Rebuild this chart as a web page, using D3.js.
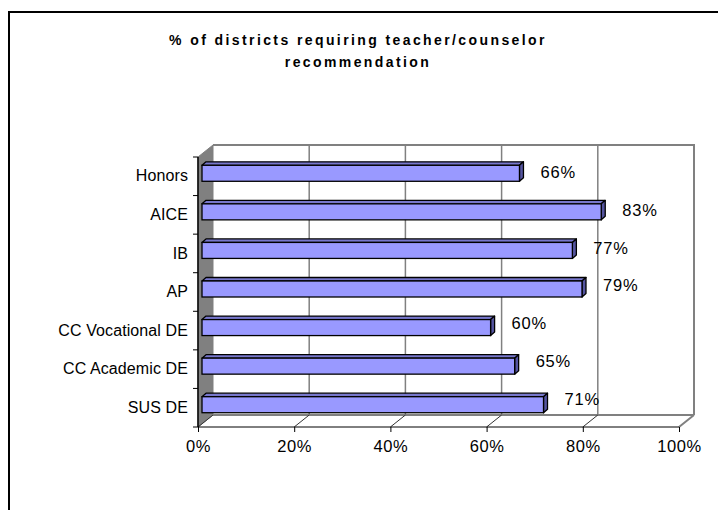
<!DOCTYPE html>
<html>
<head>
<meta charset="utf-8">
<script src="https://cdn.jsdelivr.net/npm/d3@7"></script>
<style>
  body { margin: 0; background: #fff; }
  text { font-family: Arial, "Liberation Sans", sans-serif; }
</style>
</head>
<body>
<script>
//categories and values, top to bottom
var categories = ["Honors", "AICE", "IB", "AP", "CC Vocational DE", "CC Academic DE", "SUS DE"];
var values = [0.66, 0.83, 0.77, 0.79, 0.60, 0.65, 0.71];
var xTicks = [0, 0.2, 0.4, 0.6, 0.8, 1.0];
var titleLines = ["% of districts requiring teacher/counselor", "recommendation"];

var width = 718, height = 510;
var fontFam = "Arial, 'Liberation Sans', sans-serif";

//front plane of the 3d plot
var front = {left: 198, right: 679, top: 157, bottom: 427};
//depth shift to the back wall
var depth = {dx: 15, dy: -12};
//bar depth position and thickness
var barShift = {dx: 4, dy: -3},
    barDepth = {dx: 4, dy: -3.5},
    barH = 16;

var svg = d3.select("body").append("svg")
    .attr("width", width)
    .attr("height", height);

//outer border (only left and top fall inside the picture)
svg.append("path")
    .attr("d", "M9,520 L9,12 L730,12")
    .attr("fill", "none")
    .attr("stroke", "black")
    .attr("stroke-width", 2);

//title
svg.append("g").selectAll("text")
    .data(titleLines)
    .enter().append("text")
    .attr("x", 358)
    .attr("y", function(d, i) { return 45 + i * 22; })
    .attr("text-anchor", "middle")
    .attr("font-size", 14)
    .attr("font-weight", "bold")
    .attr("letter-spacing", 2.4)
    .text(function(d) { return d; });

var x = d3.scaleLinear().domain([0, 1]).range([front.left, front.right]);
var y = d3.scaleBand().domain(categories).range([front.top, front.bottom]);

//back wall edge + floor
var backBottom = front.bottom + depth.dy,
    backTop = front.top + depth.dy;

//left side wall
svg.append("path")
    .attr("d", "M" + front.left + "," + front.top +
        " L" + (front.left + depth.dx) + "," + backTop +
        " L" + (front.left + depth.dx) + "," + backBottom +
        " L" + front.left + "," + front.bottom + "Z")
    .attr("fill", "#808080")
    .attr("stroke", "#808080");

//back wall outline (top and right)
svg.append("path")
    .attr("d", "M" + (x(0) + depth.dx) + "," + backTop +
        " L" + (x(1) + depth.dx) + "," + backTop +
        " L" + (x(1) + depth.dx) + "," + backBottom)
    .attr("fill", "none")
    .attr("stroke", "#808080")
    .attr("stroke-width", 2);

//gridlines on the back wall
svg.append("g").selectAll("line")
    .data(xTicks.slice(1, -1))
    .enter().append("line")
    .attr("x1", function(d) { return x(d) + depth.dx; })
    .attr("x2", function(d) { return x(d) + depth.dx; })
    .attr("y1", backTop)
    .attr("y2", backBottom)
    .attr("stroke", "#808080")
    .attr("stroke-width", 1.5);

//floor back edge
svg.append("line")
    .attr("x1", x(0) + depth.dx).attr("x2", x(1) + depth.dx)
    .attr("y1", backBottom).attr("y2", backBottom)
    .attr("stroke", "#808080").attr("stroke-width", 2);

//floor diagonals at every tick
svg.append("g").selectAll("line")
    .data(xTicks)
    .enter().append("line")
    .attr("x1", function(d) { return x(d); })
    .attr("x2", function(d) { return x(d) + depth.dx; })
    .attr("y1", front.bottom)
    .attr("y2", backBottom)
    .attr("stroke", function(d) { return d === 1 ? "#808080" : "#333"; })
    .attr("stroke-width", function(d) { return d === 1 ? 2 : 1; });

//bottom axis
var xAxis = svg.append("g")
    .attr("transform", "translate(0," + front.bottom + ")")
    .call(d3.axisBottom(x).tickValues(xTicks).tickFormat(d3.format(".0%")).tickSize(5).tickPadding(8));
xAxis.select(".domain").attr("stroke", "black").attr("d", "M" + x(0) + ",0H" + x(1));
xAxis.selectAll("text").attr("font-size", 16.5).attr("letter-spacing", 0.6)
    .attr("font-family", fontFam).attr("fill", "black");

//left axis
var yAxis = svg.append("g")
    .attr("transform", "translate(" + front.left + ",0)")
    .call(d3.axisLeft(y).tickSize(0).tickPadding(10));
yAxis.select(".domain").attr("stroke", "black").attr("stroke-width", 1.5)
    .attr("d", "M0," + front.top + "V" + front.bottom);
yAxis.selectAll("text").attr("font-size", 16).attr("letter-spacing", 0.1)
    .attr("font-family", fontFam).attr("fill", "black");

//category separators ticks
var bounds = categories.map(function(c) { return y(c); }).concat([front.bottom]);
svg.append("g").selectAll("line")
    .data(bounds)
    .enter().append("line")
    .attr("x1", front.left - 5).attr("x2", front.left)
    .attr("y1", function(d) { return d; }).attr("y2", function(d) { return d; })
    .attr("stroke", "black");

//bars
var bars = svg.append("g").selectAll("g")
    .data(categories)
    .enter().append("g");

function barGeom(c, i) {
    var x0 = x(0) + barShift.dx,
        x1 = x0 + (x(values[i]) - x(0)),
        yc = y(c) + y.bandwidth() / 2 + barShift.dy,
        y0 = yc - barH / 2, y1 = yc + barH / 2;
    return {x0: x0, x1: x1, y0: y0, y1: y1};
}

//top face
bars.append("path")
    .attr("d", function(c, i) {
        var g = barGeom(c, i);
        return "M" + g.x0 + "," + g.y0 + " L" + (g.x0 + barDepth.dx) + "," + (g.y0 + barDepth.dy) +
            " L" + (g.x1 + barDepth.dx) + "," + (g.y0 + barDepth.dy) + " L" + g.x1 + "," + g.y0 + "Z";
    })
    .attr("fill", "#7777cc").attr("stroke", "black").attr("stroke-width", 1.3).attr("stroke-linejoin", "round");

//side face
bars.append("path")
    .attr("d", function(c, i) {
        var g = barGeom(c, i);
        return "M" + g.x1 + "," + g.y0 + " L" + (g.x1 + barDepth.dx) + "," + (g.y0 + barDepth.dy) +
            " L" + (g.x1 + barDepth.dx) + "," + (g.y1 + barDepth.dy) + " L" + g.x1 + "," + g.y1 + "Z";
    })
    .attr("fill", "#5555a0").attr("stroke", "black").attr("stroke-width", 1.3).attr("stroke-linejoin", "round");

//front face
bars.append("rect")
    .attr("x", function(c, i) { return barGeom(c, i).x0; })
    .attr("y", function(c, i) { return barGeom(c, i).y0; })
    .attr("width", function(c, i) { var g = barGeom(c, i); return g.x1 - g.x0; })
    .attr("height", barH)
    .attr("fill", "#9999ff").attr("stroke", "black").attr("stroke-width", 1.3);

//value labels (sit a little above the bar middle, drifting up toward the bottom)
bars.append("text")
    .attr("x", function(c, i) { return barGeom(c, i).x1 + 21; })
    .attr("y", function(c, i) { var g = barGeom(c, i); return (g.y0 + g.y1) / 2 - 1 - i * 0.8; })
    .attr("dy", "0.35em")
    .attr("font-size", 16.5)
    .attr("letter-spacing", 0.8)
    .text(function(c, i) { return d3.format(".0%")(values[i]); });
</script>
</body>
</html>
